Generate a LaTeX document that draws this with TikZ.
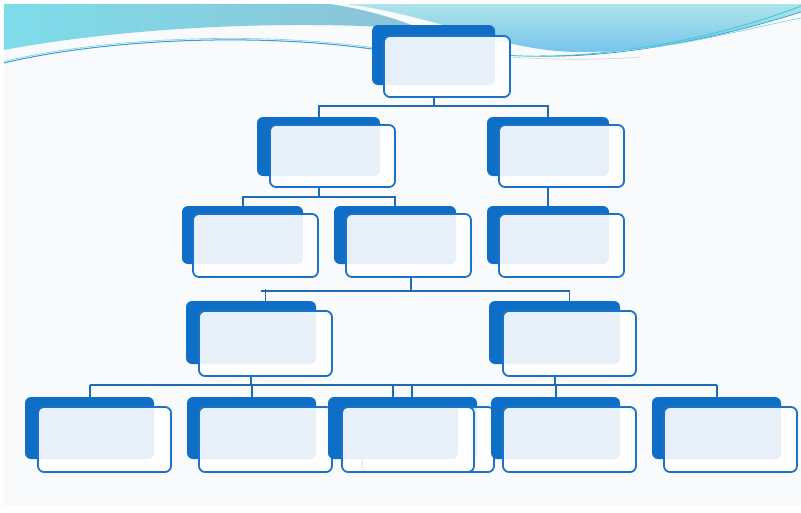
\documentclass[tikz,border=0pt]{standalone}
\pgfdeclarelayer{bg}
\pgfdeclarelayer{lines}
\pgfsetlayers{bg,lines,main}
\definecolor{boxdark}{HTML}{0F6EC6}
\definecolor{boxline}{HTML}{1B72C8}
\definecolor{connblue}{HTML}{1F6CB5}
\definecolor{bgc}{HTML}{F9FAFB}
\definecolor{hcyan}{HTML}{7EDCEA}
\definecolor{hblue}{HTML}{8CC2D8}
\definecolor{hlight}{HTML}{AEE4EA}
\definecolor{hmid}{HTML}{78C4EC}
\definecolor{lineA}{HTML}{3F9BD8}
\definecolor{lineB}{HTML}{6ED6E6}
\definecolor{lineC}{HTML}{3CCFC8}
\tikzset{
  backbox/.style={rectangle, rounded corners=6pt, fill=boxdark, inner sep=0pt, outer sep=0pt},
  frontbox/.style={rectangle, rounded corners=6pt, fill=white, fill opacity=0.9, draw=boxline, line width=1.8pt, inner sep=0pt, outer sep=0pt},
  conn/.style={draw=connblue, line width=2pt},
  thinconn/.style={draw=connblue, line width=1.1pt},
}
\newcommand\orgbox[9]{%
  \node[backbox, minimum width=#4pt-#2pt, minimum height=#5pt-#3pt] (#1b) at ({(#2+#4)/2},{(#3+#5)/2}) {};
  \node[frontbox, minimum width=#8pt-#6pt, minimum height=#9pt-#7pt] (#1f) at ({(#6+#8)/2},{(#7+#9)/2}) {};}
\begin{document}
\begin{tikzpicture}[x=1pt,y=-1pt]
\useasboundingbox (0,0) rectangle (801,512);
\begin{pgfonlayer}{bg}
  \fill[white] (0,0) rectangle (801,512);
  \fill[bgc] (4,4) rectangle (801,506);
  % left header region
  \path[left color=hcyan, right color=hblue] (4,4) -- (330,4) .. controls (370,10) and (400,20) .. (430,32) -- (430,40) -- (400,28) .. controls (280,20) and (120,28) .. (4,50) -- cycle;
  % right header region
  \path[top color=hlight, bottom color=hmid] (345,4) -- (801,4) -- (801,12) .. controls (720,38) and (650,52) .. (580,52) .. controls (540,52) and (500,42) .. (460,30) .. controls (420,18) and (380,8) .. (345,4) -- cycle;
  % swoosh lines
  \draw[line width=1pt, lineA] (4,63) .. controls (100,40) and (250,32) .. (372,49);
  \draw[line width=0.6pt, lineB] (4,61.5) .. controls (100,38.5) and (250,30.5) .. (372,47.5);
  \draw[line width=0.6pt, gray!35] (505,57) .. controls (560,60) and (600,60) .. (640,57);
  \draw[line width=0.9pt, lineC] (505,55) .. controls (580,61) and (700,45) .. (801,6);
  \draw[line width=0.7pt, lineA] (540,56) .. controls (620,58) and (720,38) .. (801,12);
  \draw[line width=0.6pt, lineB] (600,52) .. controls (680,48) and (740,30) .. (801,18);
\end{pgfonlayer}

\orgbox{top}{372}{25}{495}{85}{384}{36}{510}{97}
\orgbox{l2a}{257}{117}{380}{176}{270}{125}{395}{187}
\orgbox{l2b}{487}{117}{609}{176}{499}{125}{624}{187}
\orgbox{l3a}{182}{206}{303}{264}{193}{214}{318}{277}
\orgbox{l3b}{334}{206}{456}{264}{346}{214}{471}{277}
\orgbox{l3c}{487}{206}{609}{264}{499}{214}{624}{277}
\orgbox{l4a}{186}{301}{316}{364}{199}{311}{332}{376}
\orgbox{l4b}{489}{301}{620}{364}{503}{311}{636}{376}
\orgbox{l5a}{25}{397}{154}{459}{38}{407}{171}{472}
\orgbox{l5b}{187}{397}{316}{459}{199}{407}{332}{472}
\orgbox{l5x}{347}{397}{477}{459}{362}{407}{494}{472}
\orgbox{l5c}{328}{397}{458}{459}{342}{407}{474}{472}
\orgbox{l5d}{491}{397}{620}{459}{503}{407}{636}{472}
\orgbox{l5e}{652}{397}{781}{459}{664}{407}{797}{472}

\coordinate (j1) at (0,106);
\coordinate (j2) at (0,197);
\coordinate (j3) at (411,291);
\coordinate (j4) at (0,385);

\begin{pgfonlayer}{lines}
  % level 1 -> 2
  \draw[conn] (topb.south |- topf.south) -- (topb.south |- j1);
  \draw[conn] (l2ab.north) -- (l2ab.north |- j1) -- (l2bb.north |- j1) -- (l2bb.north);
  % level 2 -> 3
  \draw[conn] (l2ab.south |- l2af.south) -- (l2ab.south |- j2);
  \draw[conn] (l3ab.north) -- (l3ab.north |- j2) -- (l3bb.north |- j2) -- (l3bb.north);
  \draw[conn] (l2bb.south |- l2bf.south) -- (l3cb.north);
  % level 3 -> 4
  \draw[thinconn] (l3bf.south -| j3) -- (j3);
  \draw[thinconn] (l4af.north |- j3) ++(-5,0) -- (l4bf.north |- j3);
  \draw[thinconn] (l4af.north |- j3) ++(0,-2) -- (l4af.north |- l4ab.north);
  \draw[thinconn] (l4bf.north |- j3) -- (l4bf.north |- l4bb.north);
  % level 4 -> 5
  \draw[conn] (l4ab.south |- l4af.south) -- (l4ab.south |- j4);
  \draw[conn] (l4bb.south |- l4bf.south) -- (l4bb.south |- j4);
  \draw[conn] (l5ab.north |- j4) -- (l5eb.north |- j4);
  \foreach \n in {l5ab,l5bb,l5xb,l5cb,l5db,l5eb}
    \draw[conn] (\n.north |- j4) -- (\n.north);
\end{pgfonlayer}
\end{tikzpicture}
\end{document}
